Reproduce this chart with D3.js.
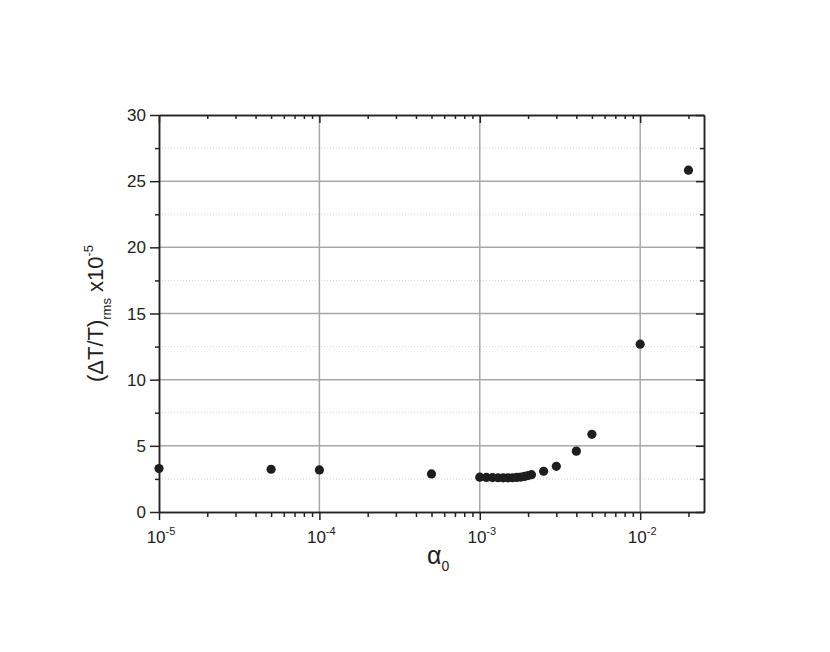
<!DOCTYPE html>
<html>
<head>
<meta charset="utf-8">
<script src="https://cdn.jsdelivr.net/npm/d3@7"></script>
<style>
  body { margin: 0; background: #fff; }
  text { font-family: "Liberation Sans", Arial, sans-serif; fill: #222; }
</style>
</head>
<body>
<div id="myChart"></div>
<script>
// data
let alpha = [1e-5, 5e-5, 1e-4, 5e-4,
             1.0e-3, 1.1e-3, 1.2e-3, 1.3e-3, 1.4e-3, 1.5e-3, 1.6e-3, 1.7e-3, 1.8e-3, 1.9e-3, 2.0e-3, 2.1e-3,
             2.5e-3, 3e-3, 4e-3, 5e-3, 1e-2, 2e-2];
let rms = [3.28, 3.23, 3.18, 2.88,
           2.63, 2.61, 2.60, 2.59, 2.58, 2.58, 2.59, 2.61, 2.64, 2.69, 2.75, 2.82,
           3.08, 3.45, 4.6, 5.87, 12.68, 25.83];

let xMajor = [1e-5, 1e-4, 1e-3, 1e-2];
let xExp = ["-5", "-4", "-3", "-2"];
let xMinor = [2e-5, 3e-5, 4e-5, 5e-5, 6e-5, 7e-5, 8e-5, 9e-5,
              2e-4, 3e-4, 4e-4, 5e-4, 6e-4, 7e-4, 8e-4, 9e-4,
              2e-3, 3e-3, 4e-3, 5e-3, 6e-3, 7e-3, 8e-3, 9e-3, 2e-2];
let yMajor = [0, 5, 10, 15, 20, 25, 30];
let yMinor = [2.5, 7.5, 12.5, 17.5, 22.5, 27.5];

// set the dimensions and margins of the graph
let margin = {top: 115, right: 126, bottom: 140, left: 159},
    width = 830 - margin.left - margin.right,
    height = 652 - margin.top - margin.bottom;

let svg = d3.select("#myChart")
    .append("svg")
        .attr("width", 830)
        .attr("height", 652)
    .append("g")
        .attr("transform", "translate(" + margin.left + "," + margin.top + ")");

let x = d3.scaleLog()
    .domain([1e-5, 2.5e-2])
    .range([0, width]);

let y = d3.scaleLinear()
    .domain([0, 30])
    .range([height, 0]);

// minor grid (dotted)
svg.append("g")
    .selectAll("line")
    .data(yMinor)
    .enter()
    .append("line")
        .attr("x1", 0).attr("x2", width)
        .attr("y1", d => y(d)).attr("y2", d => y(d))
        .attr("stroke", "#d4d4d4")
        .attr("stroke-width", 1)
        .attr("stroke-dasharray", "1,2");

// major grid
svg.append("g")
    .selectAll("line")
    .data(yMajor.slice(1, -1))
    .enter()
    .append("line")
        .attr("x1", 0).attr("x2", width)
        .attr("y1", d => y(d)).attr("y2", d => y(d))
        .attr("stroke", "#a8a8a8")
        .attr("stroke-width", 1.5);

svg.append("g")
    .selectAll("line")
    .data(xMajor.slice(1))
    .enter()
    .append("line")
        .attr("x1", d => x(d)).attr("x2", d => x(d))
        .attr("y1", 0).attr("y2", height)
        .attr("stroke", "#a8a8a8")
        .attr("stroke-width", 1.5);

// axes
function styleAxis(g) {
    g.select(".domain").attr("stroke", "#222").attr("stroke-width", 1.5);
    g.selectAll(".tick line").attr("stroke", "#222").attr("stroke-width", 1.5);
    g.selectAll(".tick text").remove();
}

// bottom
svg.append("g")
    .attr("transform", "translate(0," + height + ")")
    .call(d3.axisBottom(x).tickValues(xMajor).tickSize(8).tickSizeOuter(0).tickFormat(""))
    .call(styleAxis);
svg.append("g")
    .attr("transform", "translate(0," + height + ")")
    .call(d3.axisBottom(x).tickValues(xMinor).tickSize(5).tickSizeOuter(0).tickFormat(""))
    .call(styleAxis);

// top (ticks inward)
svg.append("g")
    .call(d3.axisBottom(x).tickValues(xMajor).tickSize(8).tickSizeOuter(0).tickFormat(""))
    .call(styleAxis);
svg.append("g")
    .call(d3.axisBottom(x).tickValues(xMinor).tickSize(4).tickSizeOuter(0).tickFormat(""))
    .call(styleAxis);

// left
svg.append("g")
    .call(d3.axisLeft(y).tickValues(yMajor).tickSize(9).tickSizeOuter(0).tickFormat(""))
    .call(styleAxis);
svg.append("g")
    .call(d3.axisLeft(y).tickValues(yMinor).tickSize(4).tickSizeOuter(0).tickFormat(""))
    .call(styleAxis);

// right (ticks inward)
svg.append("g")
    .attr("transform", "translate(" + width + ",0)")
    .call(d3.axisLeft(y).tickValues(yMajor).tickSize(8).tickSizeOuter(0).tickFormat(""))
    .call(styleAxis);
svg.append("g")
    .attr("transform", "translate(" + width + ",0)")
    .call(d3.axisLeft(y).tickValues(yMinor).tickSize(4).tickSizeOuter(0).tickFormat(""))
    .call(styleAxis);

// y tick labels
svg.append("g")
    .selectAll("text")
    .data(yMajor)
    .enter()
    .append("text")
        .attr("x", -13)
        .attr("y", d => y(d))
        .attr("dy", "0.36em")
        .attr("text-anchor", "end")
        .style("font-size", "17px")
        .text(d => d);

// x tick labels 10^n
let xl = svg.append("g")
    .selectAll("text")
    .data(xMajor)
    .enter()
    .append("text")
        .attr("x", d => x(d) + 2)
        .attr("y", height + 31)
        .attr("text-anchor", "middle")
        .style("font-size", "17px");
xl.append("tspan").text("10");
xl.append("tspan")
    .attr("dy", -8)
    .style("font-size", "11px")
    .text((d, i) => xExp[i]);

// axis titles
let xt = svg.append("text")
    .attr("x", x(5.5e-4))
    .attr("y", height + 52)
    .attr("text-anchor", "middle")
    .style("font-size", "25px");
xt.append("tspan").text("\u03b1");
xt.append("tspan").attr("dy", 7).style("font-size", "14px").text("0");

let yt = svg.append("text")
    .attr("transform", "translate(-56," + y(15) + ") rotate(-90)")
    .attr("text-anchor", "middle")
    .style("font-size", "22px");
yt.append("tspan").text("(\u0394T/T)");
yt.append("tspan").attr("dy", 8).style("font-size", "13px").text("rms");
yt.append("tspan").attr("dy", -8).text(" x10");
yt.append("tspan").attr("dy", -10).style("font-size", "13px").text("-5");

// dots
svg.append("g")
    .selectAll("circle")
    .data(alpha)
    .enter()
    .append("circle")
        .attr("cx", d => x(d))
        .attr("cy", (d, i) => y(rms[i]))
        .attr("r", 4.6)
        .style("fill", "#1e1e1e");
</script>
</body>
</html>
